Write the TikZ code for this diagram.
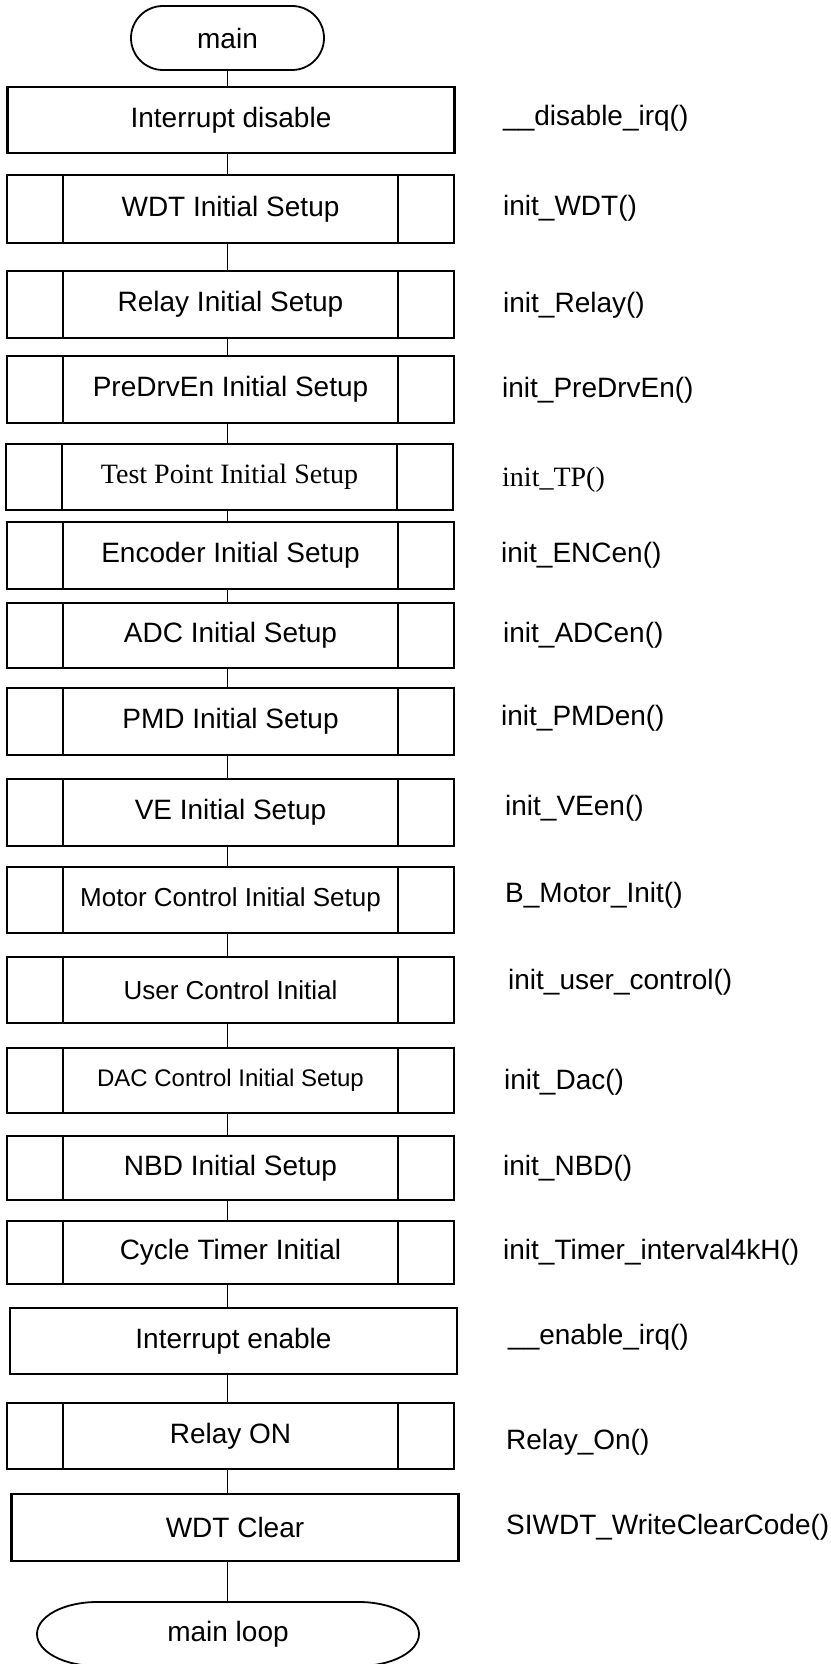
\documentclass[tikz,border=0pt]{standalone}
\usepackage{fontspec}
\setmainfont{Liberation Sans}
\newfontfamily\tms{Liberation Serif}
\tikzset{
  proc/.style={draw, line width=2.3pt, minimum width=447pt, minimum height=66pt, outer sep=0pt, inner sep=0pt, font=\fontsize{28}{33}\selectfont},
  term/.style={draw, line width=1.8pt, rounded corners=32pt, minimum width=193pt, minimum height=64pt, outer sep=0pt, inner sep=0pt, font=\fontsize{28}{33}\selectfont},
  conn/.style={line width=1.3pt},
  innerln/.style={line width=1.7pt},
  lbl/.style={anchor=west, inner sep=0pt, font=\fontsize{28}{33}\selectfont},
}
\begin{document}
\begin{tikzpicture}[x=1pt,y=1pt]
\path[use as bounding box] (0,0) rectangle (830,-1664);
\node[term] (main) at (227.5,-38) {main};
\node[proc, minimum height=66pt] (p1) at (231,-120) {Interrupt disable};
\node[proc, minimum height=68pt] (p2) at (230.5,-209) {WDT Initial Setup};
\node[proc, minimum height=67pt] (p3) at (230.5,-304.5) {Relay Initial Setup};
\node[proc, minimum height=67pt] (p4) at (230.5,-389.5) {PreDrvEn Initial Setup};
\node[proc, minimum height=66pt] (p5) at (229.5,-477) {\tms Test Point Initial Setup};
\node[proc, minimum height=67pt] (p6) at (230.5,-555.5) {Encoder Initial Setup};
\node[proc, minimum height=65pt] (p7) at (230.5,-635.5) {ADC Initial Setup};
\node[proc, minimum height=67pt] (p8) at (230.5,-721.5) {PMD Initial Setup};
\node[proc, minimum height=67pt] (p9) at (230.5,-812.5) {VE Initial Setup};
\node[proc, minimum height=66pt, font=\fontsize{26}{31}\selectfont] (p10) at (230.5,-900) {Motor Control Initial Setup};
\node[proc, minimum height=66pt, font=\fontsize{26}{31}\selectfont] (p11) at (230.5,-990) {User Control Initial};
\node[proc, minimum height=65pt, font=\fontsize{24}{29}\selectfont] (p12) at (230.5,-1080.5) {DAC Control Initial Setup};
\node[proc, minimum height=64pt] (p13) at (230.5,-1168) {NBD Initial Setup};
\node[proc, minimum height=63pt] (p14) at (230.5,-1252.5) {Cycle Timer Initial};
\node[proc, minimum height=66pt] (p15) at (233.5,-1341) {Interrupt enable};
\node[proc, minimum height=66pt] (p16) at (230.5,-1436) {Relay ON};
\node[proc, minimum height=67pt] (p17) at (235,-1527.5) {WDT Clear};
\node[minimum width=382pt, minimum height=64pt, outer sep=0pt, inner sep=0pt, font=\fontsize{28}{33}\selectfont] (loop) at (228,-1634) {main loop};
\draw[line width=1.8pt] ([xshift=60pt]loop.north west) -- ([xshift=-60pt]loop.north east)
  arc[start angle=90, end angle=-90, x radius=60pt, y radius=32pt]
  -- ([xshift=60pt]loop.south west)
  arc[start angle=270, end angle=90, x radius=60pt, y radius=32pt] -- cycle;
\foreach \a/\b in {main/p1,p1/p2,p2/p3,p3/p4,p4/p5,p5/p6,p6/p7,p7/p8,p8/p9,p9/p10,p10/p11,p11/p12,p12/p13,p13/p14,p14/p15,p15/p16,p16/p17,p17/loop}
  \draw[conn] (\a.south -| main.center) -- (\b.north -| main.center);
\foreach \n in {p2,p3,p4,p5,p6,p7,p8,p9,p10,p11,p12,p13,p14,p16}
  \draw[innerln] ([xshift=56pt]\n.north west) -- ([xshift=56pt]\n.south west)
                 ([xshift=-56pt]\n.north east) -- ([xshift=-56pt]\n.south east);
\node[lbl] (l1) at (503,-118) {\_\_disable\_irq()};
\node[lbl] (l2) at (503,-208) {init\_WDT()};
\node[lbl] (l3) at (503,-305) {init\_Relay()};
\node[lbl] (l4) at (502,-390) {init\_PreDrvEn()};
\node[lbl, font=\fontsize{28}{33}\selectfont\tms] (l5) at (502,-480) {init\_TP()};
\node[lbl] (l6) at (501,-555) {init\_ENCen()};
\node[lbl] (l7) at (503,-635) {init\_ADCen()};
\node[lbl] (l8) at (501,-718) {init\_PMDen()};
\node[lbl] (l9) at (505,-808) {init\_VEen()};
\node[lbl] (l10) at (505,-895) {B\_Motor\_Init()};
\node[lbl] (l11) at (508,-982) {init\_user\_control()};
\node[lbl] (l12) at (504,-1082) {init\_Dac()};
\node[lbl] (l13) at (503,-1168) {init\_NBD()};
\node[lbl] (l14) at (503,-1252) {init\_Timer\_interval4kH()};
\node[lbl] (l15) at (508,-1337) {\_\_enable\_irq()};
\node[lbl] (l16) at (506,-1442) {Relay\_On()};
\node[lbl] (l17) at (506,-1527) {SIWDT\_WriteClearCode()};
\end{tikzpicture}
\end{document}
